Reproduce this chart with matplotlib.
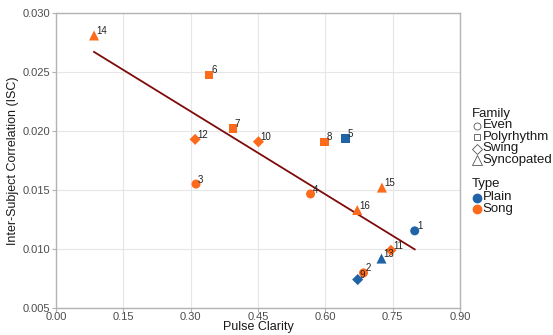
import matplotlib
matplotlib.use("Agg")
import matplotlib.pyplot as plt
from matplotlib.lines import Line2D
import numpy as np

plt.rcParams['font.family'] = ['Liberation Sans', 'DejaVu Sans']

ids = ['1','2','3','4','5','6','7','8','9','10','11','12','13','14','15','16']
pulse = [0.799, 0.685, 0.312, 0.567, 0.645, 0.341, 0.394, 0.598, 0.672, 0.451, 0.746, 0.310, 0.725, 0.085, 0.726, 0.671]
isc = [0.01153, 0.00797, 0.0155, 0.01466, 0.01937, 0.02477, 0.0202, 0.01909, 0.00740, 0.01909, 0.00988, 0.01929, 0.00918, 0.0281, 0.0152, 0.0133]
family = ['Even','Even','Even','Even','Polyrhythm','Polyrhythm','Polyrhythm','Polyrhythm',
          'Swing','Swing','Swing','Swing','Syncopated','Syncopated','Syncopated','Syncopated']
types = ['Plain','Song','Song','Song','Plain','Song','Song','Song','Plain','Song','Song','Song','Plain','Song','Song','Song']

family_names = ['Even', 'Polyrhythm', 'Swing', 'Syncopated']
type_names = ['Plain', 'Song']
markers = {'Even': 'o', 'Polyrhythm': 's', 'Swing': 'D', 'Syncopated': '^'}
sizes = {'Even': 42, 'Polyrhythm': 36, 'Swing': 32, 'Syncopated': 52}
colors = {'Plain': '#2063a6', 'Song': '#fc6a1c'}

W, H = 553, 335
fig = plt.figure(figsize=(W / 100, H / 100), dpi=100)
ax = fig.add_axes([0.101, 0.081, 0.731, 0.880])

ax.set_xlim(0, 0.90)
ax.set_ylim(0.005, 0.030)
ax.set_xticks([0.0, 0.15, 0.30, 0.45, 0.60, 0.75, 0.90])
ax.set_xticklabels(['0.00', '0.15', '0.30', '0.45', '0.60', '0.75', '0.90'])
ax.set_yticks([0.005, 0.010, 0.015, 0.020, 0.025, 0.030])
ax.set_yticklabels(['0.005', '0.010', '0.015', '0.020', '0.025', '0.030'])
ax.grid(True, color='#e6e6e6', linewidth=0.8)
ax.set_axisbelow(True)
for s in ax.spines.values():
    s.set_color('#b3b3b3')
    s.set_linewidth(1.0)
ax.tick_params(axis='both', colors='#b3b3b3', labelcolor='#4d4d4d', labelsize=8, length=3, width=0.8, pad=1)
ax.tick_params(axis='x', pad=0)

# regression line
x = np.array(pulse); y = np.array(isc)
k, b = np.polyfit(x, y, 1)
xs = np.array([x.min(), x.max()])
ax.plot(xs, k * xs + b, color='#7f0a0a', linewidth=1.3, zorder=2)

for i in range(len(ids)):
    ax.scatter(pulse[i], isc[i], marker=markers[family[i]], s=sizes[family[i]],
               color=colors[types[i]], edgecolors='none', zorder=3)
    ax.annotate(ids[i], (pulse[i], isc[i]), xytext=(1.5, 1), textcoords='offset points',
                fontsize=7, color='#222222', zorder=4)

ax.set_xlabel('Pulse Clarity', fontsize=9, color='#1a1a1a', labelpad=-0.5)
ax.set_ylabel('Inter-Subject Correlation (ISC)', fontsize=9, color='#1a1a1a', labelpad=3)

# manual legend (figure pixel coordinates from top-left)
def fx(px):
    return px / W

def fy(py):
    return 1 - py / H

lfs = 9.5
title_x, key_x, text_x = 472, 477, 482.5
fig.text(fx(title_x), fy(114), 'Family', fontsize=lfs, va='center', ha='left', color='#1a1a1a')
fam_y = [125.5, 137, 148.5, 160]
for f, yy in zip(family_names, fam_y):
    ms = 5 if f != 'Syncopated' else 6.5
    if f == 'Swing':
        ms = 5.5
    fig.add_artist(Line2D([fx(key_x)], [fy(yy)], transform=fig.transFigure, linestyle='none',
                          marker=markers[f], markerfacecolor='none', markeredgecolor='#555555',
                          markeredgewidth=0.6, markersize=ms))
    fig.text(fx(text_x), fy(yy), f, fontsize=lfs, va='center', ha='left', color='#1a1a1a')

fig.text(fx(title_x), fy(184), 'Type', fontsize=lfs, va='center', ha='left', color='#1a1a1a')
type_y = [197.5, 209]
for t, yy in zip(type_names, type_y):
    fig.add_artist(Line2D([fx(key_x)], [fy(yy)], transform=fig.transFigure, linestyle='none',
                          marker='o', color=colors[t], markersize=6))
    fig.text(fx(text_x), fy(yy), t, fontsize=lfs, va='center', ha='left', color='#1a1a1a')

fig.savefig('out.png', dpi=100)
